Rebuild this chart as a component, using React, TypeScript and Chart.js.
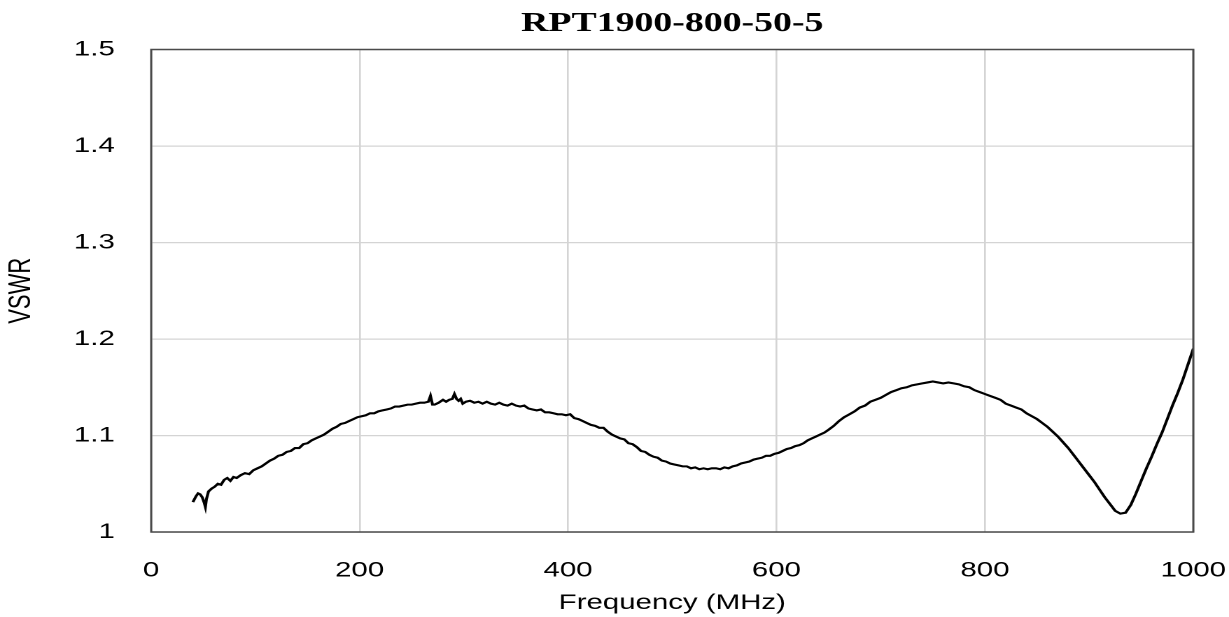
import React, { useEffect, useRef } from "react";
import { Chart, registerables } from "chart.js";

Chart.register(...registerables);

const chartTitle = "RPT1900-800-50-5";
const xAxisTitle = "Frequency (MHz)";
const yAxisTitle = "VSWR";
const xTicks = [0, 200, 400, 600, 800, 1000];
const yTicks = [1, 1.1, 1.2, 1.3, 1.4, 1.5];

const frequencies = [
  40, 43, 45, 47, 49, 51, 52, 53, 55, 58, 61, 64, 67, 70, 73, 76, 79, 82, 86, 90,
  94, 98, 102, 106, 110, 114, 118, 122, 126, 130, 134, 138, 142, 146, 150, 154, 158, 162, 166, 170,
  174, 178, 182, 186, 190, 194, 198, 202, 206, 210, 214, 218, 222, 226, 230, 234, 238, 242, 246, 250,
  254, 258, 262, 266, 268, 270, 272, 276, 280, 283, 286, 289, 291, 293, 295, 297, 299, 302, 306, 310,
  314, 318, 322, 326, 330, 334, 338, 342, 346, 350, 354, 358, 362, 366, 370, 374, 378, 382, 386, 390,
  394, 398, 402, 406, 410, 414, 418, 422, 426, 430, 434, 438, 442, 446, 450, 454, 458, 462, 466, 470,
  474, 478, 482, 486, 490, 494, 498, 502, 506, 510, 514, 518, 522, 526, 530, 534, 538, 542, 546, 550,
  554, 558, 562, 566, 570, 574, 578, 582, 586, 590, 594, 598, 602, 606, 610, 614, 618, 622, 626, 630,
  634, 638, 642, 646, 650, 655, 660, 665, 670, 675, 680, 685, 690, 695, 700, 705, 710, 715, 720, 725,
  730, 735, 740, 745, 750, 755, 760, 765, 770, 775, 780, 785, 790, 795, 800, 805, 810, 815, 820, 825,
  830, 835, 840, 845, 850, 855, 860, 865, 870, 875, 880, 885, 890, 895, 900, 905, 910, 915, 920, 925,
  930, 935, 940, 945, 950, 955, 960, 965, 970, 975, 980, 985, 990, 995, 1000,
];

const vswr = [
  1.031, 1.037, 1.040, 1.039, 1.036, 1.030, 1.026, 1.034, 1.042, 1.045, 1.047, 1.050, 1.049, 1.054, 1.056, 1.053, 1.057, 1.056, 1.059, 1.061,
  1.060, 1.064, 1.066, 1.068, 1.071, 1.074, 1.076, 1.079, 1.080, 1.083, 1.084, 1.087, 1.087, 1.091, 1.092, 1.095, 1.097, 1.099, 1.101, 1.104,
  1.107, 1.109, 1.112, 1.113, 1.115, 1.117, 1.119, 1.120, 1.121, 1.123, 1.123, 1.125, 1.126, 1.127, 1.128, 1.130, 1.130, 1.131, 1.132, 1.132,
  1.133, 1.134, 1.134, 1.135, 1.141, 1.132, 1.132, 1.134, 1.137, 1.135, 1.137, 1.138, 1.143, 1.138, 1.136, 1.138, 1.133, 1.135, 1.136, 1.134,
  1.135, 1.133, 1.135, 1.133, 1.132, 1.134, 1.132, 1.131, 1.133, 1.131, 1.130, 1.131, 1.128, 1.127, 1.126, 1.127, 1.124, 1.124, 1.123, 1.122,
  1.122, 1.121, 1.122, 1.118, 1.117, 1.115, 1.113, 1.111, 1.110, 1.108, 1.108, 1.104, 1.101, 1.099, 1.097, 1.096, 1.092, 1.091, 1.088, 1.084,
  1.083, 1.080, 1.078, 1.077, 1.074, 1.073, 1.071, 1.070, 1.069, 1.068, 1.068, 1.066, 1.067, 1.065, 1.066, 1.065, 1.066, 1.066, 1.065, 1.067,
  1.066, 1.068, 1.069, 1.071, 1.072, 1.073, 1.075, 1.076, 1.077, 1.079, 1.079, 1.081, 1.082, 1.084, 1.086, 1.087, 1.089, 1.090, 1.092, 1.095,
  1.097, 1.099, 1.101, 1.103, 1.106, 1.110, 1.115, 1.119, 1.122, 1.125, 1.129, 1.131, 1.135, 1.137, 1.139, 1.142, 1.145, 1.147, 1.149, 1.150,
  1.152, 1.153, 1.154, 1.155, 1.156, 1.155, 1.154, 1.155, 1.154, 1.153, 1.151, 1.150, 1.147, 1.145, 1.143, 1.141, 1.139, 1.137, 1.133, 1.131,
  1.129, 1.127, 1.123, 1.120, 1.117, 1.113, 1.109, 1.104, 1.099, 1.093, 1.087, 1.080, 1.073, 1.066, 1.059, 1.052, 1.044, 1.036, 1.029, 1.022,
  1.019, 1.020, 1.028, 1.040, 1.053, 1.066, 1.078, 1.091, 1.103, 1.117, 1.131, 1.144, 1.158, 1.174, 1.190,
];

const STRETCH = 1.4;
const PAGE_W = 1229;
const PAGE_H = 617;
const LOGICAL_W = Math.round(PAGE_W / STRETCH);

const framePlugin = {
  id: "frameAndTitle",
  afterDatasetsDraw(chart: any) {
    const { ctx, chartArea: a } = chart;
    ctx.save();
    ctx.strokeStyle = "#4a4a4a";
    ctx.lineWidth = 1.5;
    ctx.strokeRect(a.left, a.top, a.right - a.left, a.bottom - a.top);
    ctx.restore();
  },
  afterDraw(chart: any) {
    const { ctx, chartArea: a } = chart;
    ctx.save();
    ctx.fillStyle = "#000";
    ctx.font = 'bold 27px "Liberation Serif", "Times New Roman", serif';
    ctx.textAlign = "center";
    ctx.textBaseline = "middle";
    ctx.fillText(chartTitle, (a.left + a.right) / 2, 24);
    ctx.restore();
  },
};

export default function App() {
  const canvasRef = useRef<HTMLCanvasElement | null>(null);

  useEffect(() => {
    const canvas = canvasRef.current;
    if (!canvas) return;
    const points = frequencies.map((f, i) => ({ x: f, y: vswr[i] }));
    const chart = new Chart(canvas, {
      type: "line",
      data: {
        datasets: [
          {
            data: points,
            borderColor: "#000",
            borderWidth: 2.1,
            pointRadius: 0,
            tension: 0,
            fill: false,
          },
        ],
      },
      options: {
        responsive: false,
        animation: false,
        devicePixelRatio: 2,
        layout: { padding: { top: 49.5, right: 25.5, left: 0, bottom: 0 } },
        plugins: {
          legend: { display: false },
          tooltip: { enabled: false },
          title: { display: false },
        },
        scales: {
          x: {
            type: "linear",
            min: 0,
            max: 1000,
            afterBuildTicks: (scale: any) => {
              scale.ticks = xTicks.map((v) => ({ value: v }));
            },
            afterFit: (scale: any) => {
              scale.height = 85;
              scale.paddingLeft = 0;
              scale.paddingRight = 0;
            },
            ticks: {
              font: { family: '"Liberation Sans", Arial, sans-serif', size: 21 },
              color: "#000",
              padding: 26,
              maxRotation: 0,
              autoSkip: false,
              callback: (v: any) => String(v),
            },
            grid: { color: "#d4d4d4", lineWidth: 1.3, drawTicks: false },
            border: { display: false },
            title: {
              display: true,
              text: xAxisTitle,
              color: "#000",
              font: { family: '"Liberation Sans", Arial, sans-serif', size: 21 },
              padding: { top: 0, bottom: 1 },
            },
          },
          y: {
            type: "linear",
            min: 1,
            max: 1.5,
            afterBuildTicks: (scale: any) => {
              scale.ticks = yTicks.map((v) => ({ value: v }));
            },
            afterFit: (scale: any) => {
              scale.width = 108;
              scale.paddingTop = 0;
              scale.paddingBottom = 0;
            },
            ticks: {
              font: { family: '"Liberation Sans", Arial, sans-serif', size: 21 },
              color: "#000",
              padding: 26,
              autoSkip: false,
              callback: (v: any) => String(Math.round(Number(v) * 10) / 10),
            },
            grid: { color: "#d4d4d4", lineWidth: 1.3, drawTicks: false },
            border: { display: false },
            title: {
              display: true,
              text: yAxisTitle,
              color: "#000",
              font: { family: '"Liberation Sans", Arial, sans-serif', size: 22 },
              padding: { top: 2, bottom: 0 },
            },
          },
        },
      },
      plugins: [framePlugin],
    });
    return () => chart.destroy();
  }, []);

  return (
    <div style={{ position: "fixed", left: 0, top: 0, width: PAGE_W, height: PAGE_H, background: "#fff" }}>
      <canvas
        ref={canvasRef}
        width={LOGICAL_W}
        height={PAGE_H}
        style={{ width: PAGE_W + "px", height: PAGE_H + "px", display: "block" }}
      />
    </div>
  );
}
